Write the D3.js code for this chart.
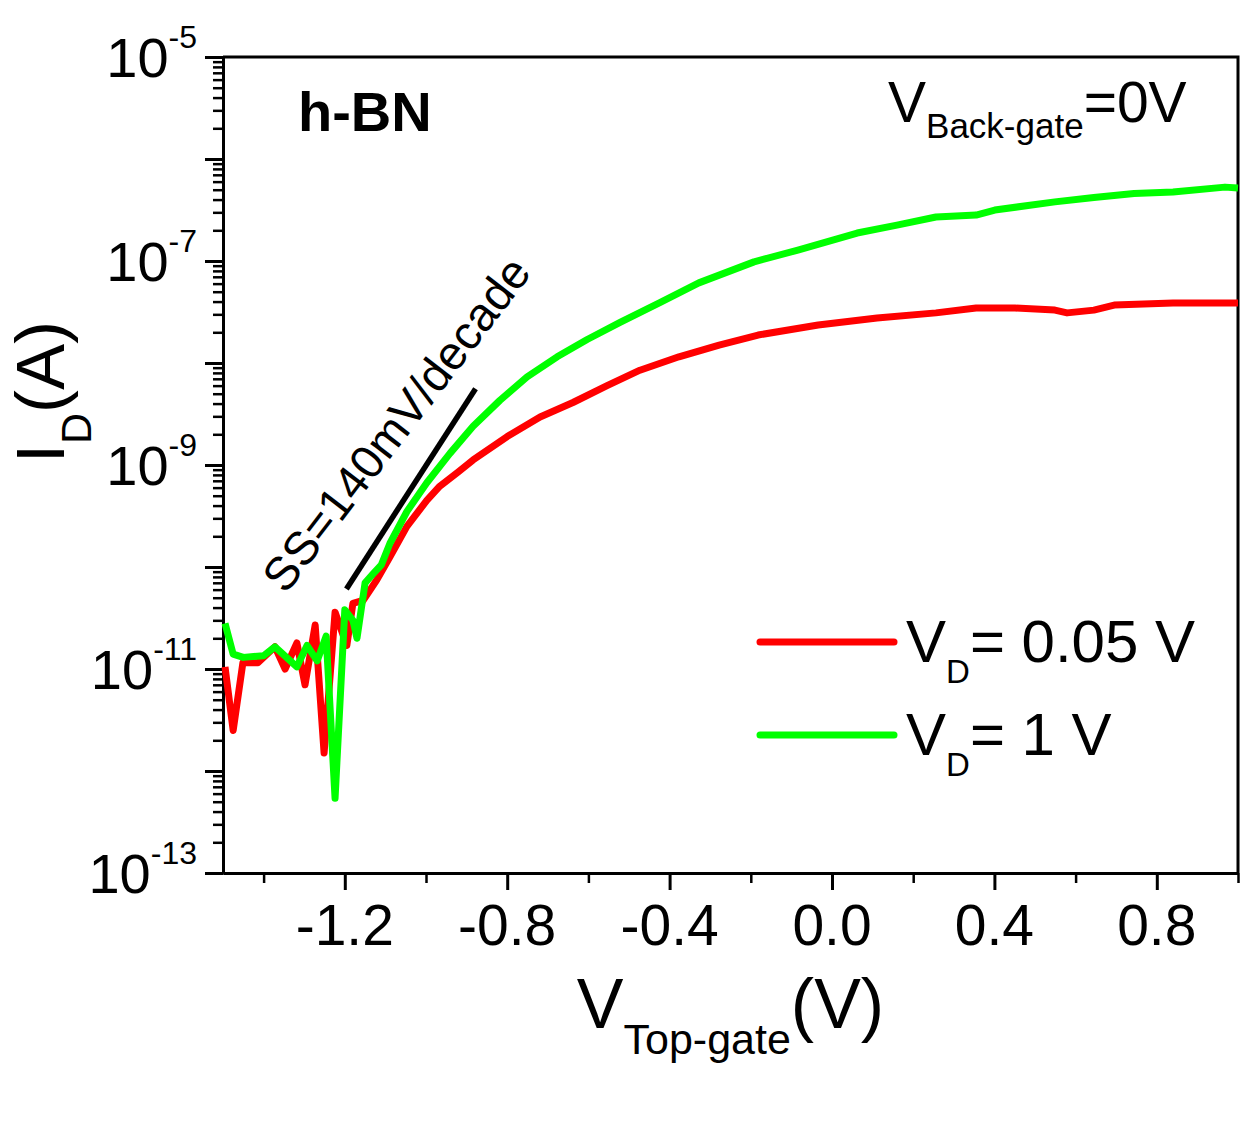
<!DOCTYPE html>
<html>
<head>
<meta charset="utf-8">
<script src="https://cdn.jsdelivr.net/npm/d3@7"></script>
<style>
  body { margin: 0; background: #fff; }
  text { font-family: "Liberation Sans", Arial, sans-serif; fill: #000; }
</style>
</head>
<body>
<svg id="chart" width="1259" height="1121"></svg>
<script>
// transfer curves (V in volts, I in amps)
var redV = [-1.495, -1.475, -1.451, -1.414, -1.372, -1.347, -1.318, -1.298, -1.273, -1.251,
  -1.224, -1.195, -1.180, -1.155, -1.121, -1.089, -1.047, -0.998, -0.966, -0.920, -0.884,
  -0.800, -0.719, -0.638, -0.554, -0.473, -0.377, -0.278, -0.182, -0.034, 0.111,
  0.256, 0.355, 0.451, 0.549, 0.579, 0.645, 0.695, 0.840, 1.0];
var redI = [1.05e-11, 2.5e-12, 1.15e-11, 1.15e-11, 1.65e-11, 1.0e-11, 1.8e-11, 7.0e-12, 2.7e-11, 1.5e-12,
  3.6e-11, 1.7e-11, 4.4e-11, 4.7e-11, 7.5e-11, 1.25e-10, 2.5e-10, 4.5e-10, 6.2e-10, 8.6e-10, 1.12e-9,
  1.9e-9, 2.96e-9, 4.1e-9, 6.0e-9, 8.5e-9, 1.15e-8, 1.5e-8, 1.88e-8, 2.36e-8, 2.76e-8,
  3.1e-8, 3.46e-8, 3.46e-8, 3.3e-8, 3.1e-8, 3.3e-8, 3.7e-8, 3.87e-8, 3.87e-8];

var greenV = [-1.495, -1.475, -1.450, -1.400, -1.372, -1.318, -1.293, -1.268, -1.246, -1.224,
  -1.200, -1.180, -1.170, -1.150, -1.131, -1.110, -1.089, -1.047, -0.998, -0.941,
  -0.884, -0.818, -0.751, -0.677, -0.603, -0.522, -0.424, -0.328, -0.192, -0.084,
  0.062, 0.160, 0.256, 0.355, 0.401, 0.549, 0.645, 0.744, 0.840, 0.968, 1.0];
var greenI = [2.8e-11, 1.4e-11, 1.3e-11, 1.35e-11, 1.65e-11, 1.05e-11, 1.7e-11, 1.2e-11, 2.1e-11, 5.4e-13,
  3.8e-11, 3.0e-11, 2.0e-11, 7.0e-11, 8.5e-11, 1.05e-10, 1.7e-10, 3.5e-10, 6.7e-10, 1.3e-9,
  2.4e-9, 4.3e-9, 7.3e-9, 1.15e-8, 1.7e-8, 2.5e-8, 3.9e-8, 6.1e-8, 9.8e-8, 1.28e-7,
  1.88e-7, 2.25e-7, 2.7e-7, 2.82e-7, 3.16e-7, 3.8e-7, 4.2e-7, 4.6e-7, 4.75e-7, 5.3e-7, 5.2e-7];

// subthreshold slope guide line
var ssLineV = [-1.196, -0.878];
var ssLineI = [6.1e-11, 5.6e-9];

var xMajorTicks = [-1.2, -0.8, -0.4, 0.0, 0.4, 0.8];
var xMinorTicks = [-1.4, -1.0, -0.6, -0.2, 0.2, 0.6, 1.0];
var xTickLabels = ['-1.2', '-0.8', '-0.4', '0.0', '0.4', '0.8'];
var yLabelExps = [-5, -7, -9, -11, -13];

var seriesNames = ['= 0.05 V', '= 1 V'];
var seriesColors = ['#ff0000', '#00ff00'];

var LEFT = 223, RIGHT = 1238, TOP = 57, BOTTOM = 873;

var svg = d3.select('#chart');

var x = d3.scaleLinear().domain([-1.5, 1.0]).range([LEFT, RIGHT]);
var y = d3.scaleLog().domain([1e-13, 1e-5]).range([BOTTOM, TOP]);

var decades = d3.range(-13, -4).map(function (e) { return Math.pow(10, e); });
var minors = [];
d3.range(-13, -5).forEach(function (e) {
  for (var m = 2; m <= 9; m++) minors.push(m * Math.pow(10, e));
});

// frame (top and right)
svg.append('path')
  .attr('d', 'M' + LEFT + ',' + TOP + 'H' + RIGHT + 'V' + BOTTOM)
  .attr('fill', 'none')
  .attr('stroke', '#000')
  .attr('stroke-width', 3);

function styleAxis (g, w) {
  g.selectAll('path').attr('stroke-width', 3);
  g.selectAll('line').attr('stroke-width', w);
}

// x axis
svg.append('g')
  .attr('transform', 'translate(0,' + BOTTOM + ')')
  .call(d3.axisBottom(x).tickValues(xMinorTicks).tickSize(10).tickSizeOuter(0).tickFormat(''))
  .call(styleAxis, 2.5);
svg.append('g')
  .attr('transform', 'translate(0,' + BOTTOM + ')')
  .call(d3.axisBottom(x).tickValues(xMajorTicks).tickSize(17).tickSizeOuter(0).tickFormat(''))
  .call(styleAxis, 3);

svg.selectAll('.xlab')
  .data(xMajorTicks)
  .enter().append('text')
  .attr('class', 'xlab')
  .attr('x', function (d) { return x(d); })
  .attr('y', 945)
  .attr('text-anchor', 'middle')
  .attr('font-size', 57)
  .text(function (d, i) { return xTickLabels[i]; });

// y axis
svg.append('g')
  .attr('transform', 'translate(' + LEFT + ',0)')
  .call(d3.axisLeft(y).tickValues(minors).tickSize(10).tickSizeOuter(0).tickFormat(''))
  .call(styleAxis, 2.5);
svg.append('g')
  .attr('transform', 'translate(' + LEFT + ',0)')
  .call(d3.axisLeft(y).tickValues(decades).tickSize(18).tickSizeOuter(0).tickFormat(''))
  .call(styleAxis, 3);

var ylab = svg.selectAll('.ylab')
  .data(yLabelExps)
  .enter().append('text')
  .attr('class', 'ylab')
  .attr('x', 197)
  .attr('y', function (d) { return y(Math.pow(10, d)) + 20; })
  .attr('text-anchor', 'end');
ylab.append('tspan').attr('font-size', 56).text('10');
ylab.append('tspan').attr('font-size', 32).attr('dy', -29).text(function (d) { return d; });

// axis titles
var xt = svg.append('text')
  .attr('x', (LEFT + RIGHT) / 2)
  .attr('y', 1028)
  .attr('text-anchor', 'middle')
  .attr('font-size', 70);
xt.append('tspan').text('V');
xt.append('tspan').attr('font-size', 43).attr('dy', 26).text('Top-gate');
xt.append('tspan').attr('dy', -26).text('(V)');

var yt = svg.append('text')
  .attr('transform', 'translate(64,392) rotate(-90)')
  .attr('text-anchor', 'middle')
  .attr('font-size', 69);
yt.append('tspan').text('I');
yt.append('tspan').attr('font-size', 43).attr('dy', 27).text('D');
yt.append('tspan').attr('dy', -27).text('(A)');

// curves
var line = d3.line()
  .x(function (d) { return x(d[0]); })
  .y(function (d) { return y(d[1]); });

var series = [d3.zip(redV, redI), d3.zip(greenV, greenI)];

svg.selectAll('.curve')
  .data(series)
  .enter().append('path')
  .attr('class', 'curve')
  .attr('d', line)
  .attr('fill', 'none')
  .attr('stroke', function (d, i) { return seriesColors[i]; })
  .attr('stroke-width', 7)
  .attr('stroke-linejoin', 'round');

svg.append('path')
  .attr('d', line(d3.zip(ssLineV, ssLineI)))
  .attr('stroke', '#000')
  .attr('stroke-width', 5.5)
  .attr('fill', 'none');

svg.append('text')
  .attr('transform', 'translate(396,424) rotate(-52.5)')
  .attr('text-anchor', 'middle')
  .attr('dy', '0.35em')
  .attr('font-size', 47)
  .text('SS=140mV/decade');

// annotations
svg.append('text')
  .attr('x', 298)
  .attr('y', 131)
  .attr('font-size', 56)
  .attr('font-weight', 'bold')
  .text('h-BN');

var bg = svg.append('text')
  .attr('x', 888)
  .attr('y', 122)
  .attr('font-size', 57);
bg.append('tspan').text('V');
bg.append('tspan').attr('font-size', 35).attr('dy', 16).text('Back-gate');
bg.append('tspan').attr('dy', -16).text('=0V');

// legend
var leg = svg.selectAll('.leg')
  .data(seriesNames)
  .enter().append('g')
  .attr('class', 'leg')
  .attr('transform', function (d, i) { return 'translate(0,' + (642 + i * 93) + ')'; });

leg.append('line')
  .attr('x1', 760).attr('x2', 894)
  .attr('stroke', function (d, i) { return seriesColors[i]; })
  .attr('stroke-width', 7)
  .attr('stroke-linecap', 'round');

var lt = leg.append('text')
  .attr('x', 906)
  .attr('y', 20)
  .attr('font-size', 60);
lt.append('tspan').text('V');
lt.append('tspan').attr('font-size', 33).attr('dy', 21).text('D');
lt.append('tspan').attr('dy', -21).text(function (d) { return d; });
</script>
</body>
</html>
